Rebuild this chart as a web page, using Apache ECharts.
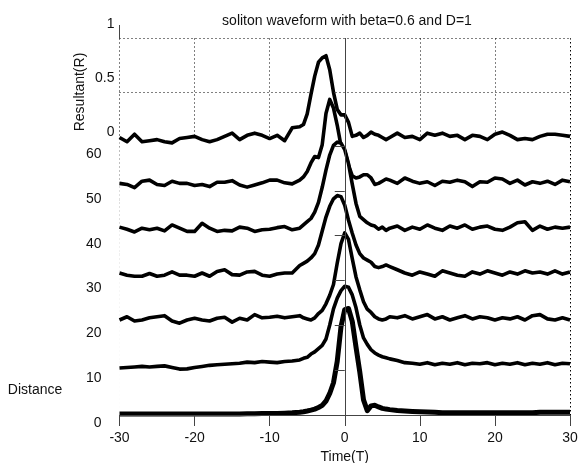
<!DOCTYPE html>
<html>
<head>
<meta charset="utf-8">
<script src="https://cdn.jsdelivr.net/npm/echarts@6/dist/echarts.min.js"></script>
<style>html,body{margin:0;padding:0;background:#fff}#c{width:586px;height:463px}</style>
</head>
<body>
<div id="c"></div>
<script>
// Time samples (T)
const timeGrid = [-30,-29,-28,-27,-26,-25,-24,-23,-22,-21,-20,-19,-18,-17,-16,-15,-14,-13,-12,-11,-10,-9,-8,-7,
  -6,-5.5,-5,-4.5,-4,-3.5,-3,-2.5,-2,-1.5,-1,-0.5,0,0.5,1,1.5,2,2.5,3,3.5,4,4.5,5,5.5,6,
  7,8,9,10,11,12,13,14,15,16,17,18,19,20,21,22,23,24,25,26,27,28,29,30];
// Distances of the waterfall rows
const distances = [60,50,40,30,20,10,0];
const distanceTicks = [0,10,20,30,40,50,60];
const resultantTicks = [0,0.5,1];
const timeTicks = [-30,-20,-10,0,10,20,30];
// Resultant R for each row
const R60 = [0.08,0.04,0.11,0.04,0.05,0.06,0.04,0.03,0.07,0.08,0.09,0.06,0.04,0.06,0.09,0.12,0.06,0.10,0.12,0.10,0.07,0.10,0.05,0.17,
  0.18,0.20,0.30,0.48,0.65,0.78,0.82,0.84,0.71,0.50,0.34,0.29,0.29,0.22,0.09,0.10,0.12,0.08,0.10,0.13,0.11,0.10,0.08,0.06,0.08,
  0.12,0.08,0.09,0.06,0.12,0.10,0.12,0.09,0.10,0.06,0.10,0.09,0.06,0.11,0.13,0.10,0.06,0.07,0.06,0.09,0.11,0.11,0.10,0.09];
const R50 = [0.07,0.06,0.03,0.09,0.10,0.06,0.05,0.09,0.07,0.07,0.05,0.06,0.04,0.08,0.08,0.095,0.055,0.035,0.055,0.075,0.10,0.10,0.075,0.065,
  0.10,0.13,0.18,0.26,0.32,0.31,0.43,0.72,0.85,0.77,0.61,0.42,0.37,0.24,0.14,0.12,0.13,0.15,0.15,0.12,0.06,0.07,0.09,0.11,0.10,
  0.07,0.12,0.09,0.07,0.085,0.05,0.09,0.08,0.10,0.085,0.04,0.085,0.08,0.12,0.11,0.07,0.10,0.055,0.085,0.07,0.09,0.06,0.10,0.085];
const R40 = [0.08,0.06,0.035,0.07,0.055,0.07,0.045,0.10,0.07,0.04,0.04,0.115,0.07,0.04,0.05,0.045,0.08,0.07,0.04,0.055,0.06,0.075,0.085,0.055,
  0.07,0.10,0.13,0.16,0.22,0.31,0.45,0.61,0.75,0.84,0.87,0.86,0.80,0.67,0.48,0.30,0.18,0.15,0.12,0.10,0.09,0.06,0.08,0.05,0.07,
  0.09,0.05,0.08,0.06,0.10,0.07,0.05,0.09,0.07,0.10,0.06,0.08,0.09,0.06,0.05,0.08,0.12,0.13,0.05,0.09,0.06,0.08,0.07,0.08];
const R30 = [0.07,0.05,0.04,0.04,0.065,0.04,0.05,0.08,0.05,0.05,0.04,0.07,0.04,0.085,0.10,0.055,0.05,0.08,0.085,0.05,0.04,0.06,0.07,0.07,
  0.14,0.16,0.18,0.21,0.25,0.33,0.46,0.59,0.69,0.76,0.79,0.78,0.70,0.56,0.44,0.33,0.25,0.21,0.19,0.17,0.13,0.12,0.13,0.145,0.13,
  0.10,0.07,0.05,0.08,0.06,0.04,0.09,0.07,0.05,0.04,0.08,0.06,0.09,0.07,0.05,0.08,0.06,0.09,0.07,0.08,0.06,0.09,0.06,0.08];
const R20 = [0.05,0.08,0.04,0.05,0.07,0.08,0.09,0.04,0.02,0.05,0.065,0.05,0.04,0.066,0.075,0.03,0.066,0.05,0.10,0.07,0.075,0.085,0.07,0.08,
  0.09,0.07,0.06,0.05,0.07,0.11,0.14,0.20,0.28,0.38,0.58,0.76,0.86,0.80,0.62,0.45,0.33,0.22,0.15,0.12,0.08,0.06,0.05,0.06,0.08,
  0.07,0.09,0.06,0.08,0.10,0.06,0.08,0.05,0.07,0.09,0.06,0.08,0.07,0.05,0.07,0.06,0.08,0.05,0.09,0.10,0.06,0.05,0.07,0.05];
const R10 = [0.02,0.025,0.03,0.035,0.03,0.035,0.04,0.025,0.01,0.012,0.025,0.035,0.045,0.05,0.055,0.06,0.065,0.075,0.07,0.08,0.075,0.07,0.08,0.085,
  0.095,0.11,0.12,0.15,0.17,0.20,0.23,0.29,0.42,0.57,0.67,0.74,0.78,0.77,0.70,0.58,0.42,0.30,0.24,0.19,0.16,0.14,0.125,0.115,0.105,
  0.09,0.07,0.065,0.055,0.07,0.05,0.065,0.055,0.07,0.05,0.065,0.06,0.07,0.05,0.065,0.055,0.07,0.05,0.065,0.055,0.07,0.05,0.065,0.06];
const R0 = [0.01,0.01,0.01,0.01,0.01,0.01,0.01,0.01,0.01,0.01,0.01,0.01,0.01,0.01,0.01,0.01,0.01,0.012,0.012,0.013,0.014,0.015,0.017,0.02,
  0.025,0.03,0.037,0.045,0.055,0.07,0.09,0.13,0.20,0.30,0.50,0.82,0.98,0.99,0.87,0.63,0.40,0.14,0.04,0.085,0.09,0.075,0.062,0.055,0.05,
  0.042,0.037,0.033,0.03,0.027,0.025,0.022,0.02,0.02,0.02,0.02,0.02,0.02,0.02,0.02,0.02,0.02,0.02,0.02,0.025,0.025,0.025,0.025,0.025];
const rows = [R60,R50,R40,R30,R20,R10,R0];

const K = 24;            // distance units per unit of R in the waterfall
const RMIN = -2.5, RMAX = 1; // resultant axis range (R=0 at distance 60)
const DMAX = 60 + K * RMAX;
const FONT = 'Liberation Sans, Arial, sans-serif';
const dotted = {color:'#000', width:1, type:[1,3]};

const series = distances.map((d, idx) => {
  const vals = rows[idx];
  const front = d === 0;
  const s = {
    type:'line', xAxisIndex:0, yAxisIndex:0,
    data: timeGrid.map((t, i) => [t, d + K * vals[i]]),
    showSymbol:false, silent:true, animation:false,
    lineStyle:{color:'#000', width: front ? 5 : 3.6, join:'round'},
    z: 3 + idx
  };
  if (!front) s.areaStyle = {color:'#fff', opacity:1, origin:'start'};
  if (front) {
    s.markLine = {
      silent:true, symbol:'none', label:{show:false}, animation:false,
      lineStyle: dotted,
      data: [
        [{coord:[0, 0]}, {coord:[0, 17]}],
        [{coord:[-1, 10]}, {coord:[1, 10]}],
        [{coord:[30, 0]}, {coord:[30, DMAX]}]
      ]
    };
  }
  return s;
});

const chart = echarts.init(document.getElementById('c'), null, {renderer:'canvas'});
chart.setOption({
  backgroundColor:'#fff',
  animation:false,
  grid:{left:119.5, right:16, top:38.5, bottom:48, containLabel:false, outerBoundsMode:'none'},
  xAxis:[
    {type:'value', min:-30, max:30, interval:10, position:'bottom', z:10,
     axisLine:{show:true, lineStyle:{color:'#444', width:1}},
     axisTick:{show:true, length:11, lineStyle:{color:'#444'}, customValues: timeTicks},
     axisLabel:{color:'#111', fontFamily:FONT, fontSize:14, margin:16, customValues: timeTicks},
     splitLine:{show:false},
     name:'Time(T)', nameLocation:'middle', nameGap:27,
     nameTextStyle:{color:'#111', fontFamily:FONT, fontSize:14}},
    {type:'value', min:-30, max:30, interval:10, position:'bottom', z:0,
     axisLine:{show:false}, axisTick:{show:false}, axisLabel:{show:false},
     splitLine:{show:true, lineStyle:dotted}}
  ],
  yAxis:[
    {type:'value', min:0, max:DMAX, interval:10, position:'left', z:10,
     axisLine:{show:true, lineStyle:{color:'#444', width:1}},
     axisTick:{show:true, length:10, lineStyle:{color:'#444'}, customValues: distanceTicks},
     axisLabel:{color:'#111', fontFamily:FONT, fontSize:14, margin:18, verticalAlign:'top', lineHeight:16, customValues: distanceTicks},
     splitLine:{show:false}},
    {type:'value', min:RMIN, max:RMAX, interval:0.5, position:'left', offset:0, z:0,
     axisLine:{show:false}, axisTick:{show:false},
     axisLabel:{color:'#111', fontFamily:FONT, fontSize:14, margin:5, verticalAlign:'bottom', lineHeight:28, customValues: resultantTicks},
     splitLine:{show:true, lineStyle:dotted}}
  ],
  title:{text:'soliton waveform with beta=0.6 and D=1', left:342, top:9, textAlign:'center',
    textStyle:{color:'#111', fontFamily:FONT, fontSize:14, fontWeight:'normal'}},
  graphic:[
    {type:'line', z:20, shape:{x1:119.5, y1:25, x2:119.5, y2:39}, style:{stroke:'#444', lineWidth:1}},
    {type:'text', x:80, y:92, rotation:Math.PI/2, z:20,
     style:{text:'Resultant(R)', fill:'#111', font:'14px ' + FONT, align:'center', verticalAlign:'middle'}},
    {type:'text', x:35, y:390, z:20,
     style:{text:'Distance', fill:'#111', font:'14px ' + FONT, align:'center', verticalAlign:'middle'}}
  ],
  series: series
});
</script>
</body>
</html>
